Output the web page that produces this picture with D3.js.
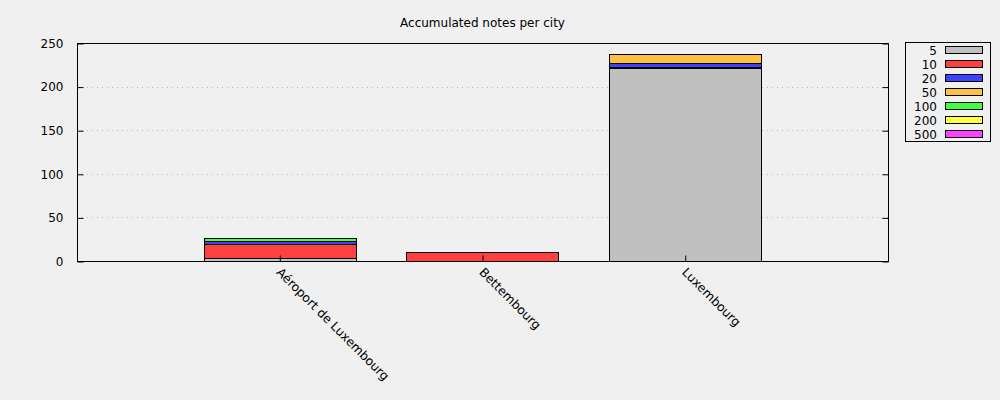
<!DOCTYPE html>
<html>
<head>
<meta charset="utf-8">
<script src="https://cdn.jsdelivr.net/npm/d3@7"></script>
<style>
  body { margin: 0; background: #f0f0f0; }
  svg { display: block; font-family: "DejaVu Sans", sans-serif; }
</style>
</head>
<body>
<script>
const cities = ["Aéroport de Luxembourg", "Bettembourg", "Luxembourg"];
const notes = ["5", "10", "20", "50", "100", "200", "500"];
const colors = ["#c0c0c0", "#ff4040", "#4040ff", "#ffc040", "#40ff40", "#ffff40", "#ff40ff"];
// one array per note, values per city
const n5 = [4, 0, 221];
const n10 = [15, 10, 2];
const n20 = [4, 0, 4];
const n50 = [0, 0, 10];
const n100 = [3, 0, 0];
const n200 = [0, 0, 0];
const n500 = [0, 0, 0];
const yTicks = [0, 50, 100, 150, 200, 250];

const series = [n5, n10, n20, n50, n100, n200, n500];

const w = 1000;
const h = 400;
const padL = 77, padR = 888, padT = 43, padB = 261;

const rows = cities.map((c, i) => {
  const r = { city: c, i: i };
  notes.forEach((n, k) => (r[n] = series[k][i]));
  return r;
});

const stacked = d3.stack().keys(notes)(rows);

const xScale = d3.scaleLinear().domain([-1, cities.length]).range([padL, padR]);
const yScale = d3.scaleLinear().domain([0, 250]).range([padB, padT]);
const barW = (xScale(1) - xScale(0)) * 0.75;

const svg = d3.select("body").append("svg").attr("width", w).attr("height", h);

svg.append("rect").attr("width", w).attr("height", h).attr("fill", "#f0f0f0");

// grid
svg.append("g")
  .selectAll("line")
  .data(yTicks.slice(1, -1))
  .enter()
  .append("line")
  .attr("x1", padL)
  .attr("x2", padR)
  .attr("y1", (d) => Math.round(yScale(d)) + 0.5)
  .attr("y2", (d) => Math.round(yScale(d)) + 0.5)
  .attr("stroke", "#b8b8b8")
  .attr("stroke-width", 1)
  .attr("stroke-dasharray", "1,4");

// bars
svg.append("g")
  .selectAll("g")
  .data(stacked)
  .enter()
  .append("g")
  .attr("fill", (d, k) => colors[k])
  .selectAll("rect")
  .data((d) => d.filter((s) => s[1] - s[0] > 0))
  .enter()
  .append("rect")
  .attr("x", (d) => Math.round(xScale(d.data.i) - barW / 2) + 0.5)
  .attr("width", Math.round(barW))
  .attr("y", (d) => Math.round(yScale(d[1])) + 0.5)
  .attr("height", (d) => Math.round(yScale(d[0])) - Math.round(yScale(d[1])))
  .attr("stroke", "#000")
  .attr("stroke-width", 1);

// axes
const yAxis = d3.axisLeft(yScale).tickValues(yTicks).tickSize(-6).tickPadding(14);
svg.append("g")
  .attr("transform", "translate(" + (padL + 0.5) + ",0.5)")
  .call(yAxis)
  .call((g) => g.select(".domain").remove())
  .call((g) => g.selectAll("text").attr("font-size", 12).attr("fill", "#000").attr("font-family", "DejaVu Sans"));

const yAxisR = d3.axisRight(yScale).tickValues(yTicks).tickSize(-6).tickFormat("");
svg.append("g")
  .attr("transform", "translate(" + (padR + 0.5) + ",0.5)")
  .call(yAxisR)
  .call((g) => g.select(".domain").remove());

const xAxis = d3.axisBottom(xScale).tickValues(d3.range(cities.length)).tickSize(-6).tickFormat("");
svg.append("g")
  .attr("transform", "translate(0," + (padB + 0.5) + ")")
  .call(xAxis)
  .call((g) => g.select(".domain").remove());

svg.append("g")
  .selectAll("text")
  .data(cities)
  .enter()
  .append("text")
  .attr("transform", (d, i) => "translate(" + (xScale(i) - 4) + "," + (padB + 12) + ") rotate(45)")
  .attr("font-size", 12.3)
  .attr("fill", "#000")
  .text((d) => d);

// frame
svg.append("rect")
  .attr("x", padL + 0.5)
  .attr("y", padT + 0.5)
  .attr("width", padR - padL)
  .attr("height", padB - padT)
  .attr("fill", "none")
  .attr("stroke", "#000");

// title
svg.append("text")
  .attr("x", (padL + padR) / 2)
  .attr("y", 27)
  .attr("text-anchor", "middle")
  .attr("font-size", 12)
  .text("Accumulated notes per city");

// legend
const legend = svg.append("g");
legend.append("rect")
  .attr("x", 905.5)
  .attr("y", 42.5)
  .attr("width", 85)
  .attr("height", 99)
  .attr("fill", "none")
  .attr("stroke", "#000");

const item = legend.selectAll("g.item")
  .data(notes)
  .enter()
  .append("g")
  .attr("class", "item")
  .attr("transform", (d, k) => "translate(0," + (50 + k * 14) + ")");

item.append("text")
  .attr("x", 937)
  .attr("y", 4.5)
  .attr("text-anchor", "end")
  .attr("font-size", 12)
  .text((d) => d);

item.append("rect")
  .attr("x", 945.5)
  .attr("y", -3.5)
  .attr("width", 37)
  .attr("height", 7)
  .attr("fill", (d, k) => colors[k])
  .attr("stroke", "#000");
</script>
</body>
</html>
